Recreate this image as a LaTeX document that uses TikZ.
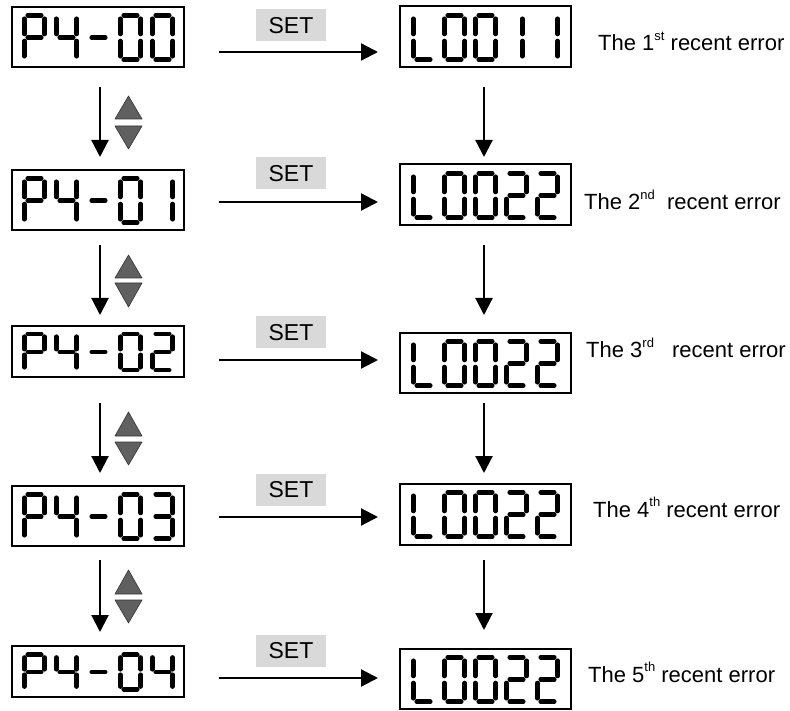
\documentclass[tikz,border=0pt]{standalone}
\usepackage{fontspec}
\setmainfont{Liberation Sans}
\usetikzlibrary{arrows.meta}
\definecolor{setgray}{RGB}{217,217,217}
\definecolor{trigray}{RGB}{96,96,96}
% seven-segment pieces (digit cell 25 x 49, top-left origin)
\newcommand\sgA{\draw[seg] (5.75,2.25)--(19.25,2.25);}
\newcommand\sgB{\draw[seg] (22.75,5.75)--(22.75,21);}
\newcommand\sgC{\draw[seg] (22.75,28)--(22.75,43.25);}
\newcommand\sgD{\draw[seg] (5.75,46.75)--(19.25,46.75);}
\newcommand\sgE{\draw[seg] (2.25,28)--(2.25,43.25);}
\newcommand\sgF{\draw[seg] (2.25,5.75)--(2.25,21);}
\newcommand\sgG{\draw[seg] (5.75,24.5)--(19.25,24.5);}
\newcommand\chZero{\sgA\sgB\sgC\sgD\sgE\sgF}
\newcommand\chOne{\sgB\sgC}
\newcommand\chTwo{\sgA\sgB\sgG\sgE\sgD}
\newcommand\chThree{\sgA\sgB\sgG\sgC\sgD}
\newcommand\chFour{\sgF\sgG\sgB\sgC}
\newcommand\chP{\sgA\sgB\sgF\sgG\sgE}
\newcommand\chL{\sgF\sgE\sgD}
\newcommand\chDash{\sgG}
\newcommand\dig[4]{\begin{scope}[shift={(#1,#2)},yscale=#3]#4\end{scope}}
\newcommand\leftrow[3]{\dig{22}{#1}{#2}{\chP}\dig{54}{#1}{#2}{\chFour}\dig{86}{#1}{#2}{\chDash}\dig{118}{#1}{#2}{\chZero}\dig{150}{#1}{#2}{#3}}
\newcommand\rightrow[1]{\dig{411}{#1}{1}{\chL}\dig{442}{#1}{1}{\chZero}\dig{473}{#1}{1}{\chZero}\dig{504}{#1}{1}{\chTwo}\dig{535}{#1}{1}{\chTwo}}
\newcommand\sups[1]{\raisebox{10.5pt}{\fontsize{13}{13}\selectfont #1}}
\begin{document}
\begin{tikzpicture}[x=1pt,y=-1pt,
  seg/.style={line width=4.6pt,line cap=round},
  dbox/.style={draw,line width=1.5pt,inner sep=0pt,outer sep=0pt},
  lbox/.style={dbox,minimum width=172pt},
  rbox/.style={dbox,minimum width=171pt},
  setbox/.style={fill=setgray,minimum width=70pt,minimum height=32pt,inner sep=0pt,text height=16.5pt,text depth=0pt,font=\fontsize{23}{27}\selectfont},
  lab/.style={anchor=base west,inner sep=0pt,font=\fontsize{22}{26}\selectfont},
  arr/.style={line width=2.2pt,-{Triangle[length=17pt,width=17pt]}},
  tri/.style={fill=trigray,draw=black!80,line width=0.6pt,line join=round}]
\useasboundingbox (0,0) rectangle (790,711);

% left displays
\node[lbox,minimum height=60pt] (l1) at (98,37) {};
\node[lbox,minimum height=60pt] (l2) at (98,200) {};
\node[lbox,minimum height=51pt] (l3) at (98,351.5) {};
\node[lbox,minimum height=60pt] (l4) at (98,516) {};
\node[lbox,minimum height=51pt] (l5) at (98,671.5) {};
\leftrow{13}{1}{\chZero}
\leftrow{176}{1}{\chOne}
\leftrow{332}{0.816}{\chTwo}
\leftrow{492}{1}{\chThree}
\leftrow{653}{0.776}{\chFour}

% right displays
\node[rbox,minimum height=61pt] (r1) at (485.5,36.5) {};
\node[rbox,minimum height=61pt] (r2) at (485.5,194.5) {};
\node[rbox,minimum height=60pt] (r3) at (485.5,363) {};
\node[rbox,minimum height=61pt] (r4) at (485.5,514.5) {};
\node[rbox,minimum height=60pt] (r5) at (485.5,679) {};
\dig{411}{13}{1}{\chL}\dig{442}{13}{1}{\chZero}\dig{473}{13}{1}{\chZero}\dig{499.5}{13}{1}{\chOne}\dig{535}{13}{1}{\chOne}
\rightrow{171}
\rightrow{339}
\rightrow{490}
\rightrow{655}

% SET keys
\node[setbox] (s1) at (291,25) {SET};
\node[setbox] (s2) at (291,173.5) {SET};
\node[setbox] (s3) at (291,332.5) {SET};
\node[setbox] (s4) at (291,489.5) {SET};
\node[setbox] (s5) at (291,650.5) {SET};

% labels
\node[lab] (t1) at (598,51) {The 1\sups{st} recent error};
\node[lab] (t2) at (584,210) {The 2\sups{nd}\hspace{6pt} recent error};
\node[lab] (t3) at (586,358) {The 3\sups{rd}\hspace{12pt} recent error};
\node[lab] (t4) at (593,517) {The 4\sups{th} recent error};
\node[lab] (t5) at (588,682) {The 5\sups{th} recent error};

% horizontal arrows
\foreach \i/\y in {1/52,2/202,3/360,4/517,5/678}{
  \coordinate (hs\i) at (219,\y);
  \coordinate (he\i) at (378,\y);
  \draw[arr] (hs\i) -- (he\i);
}
% right vertical arrows
\foreach \i/\a/\b in {1/87/157,2/245/315,3/403/473,4/560/630}{
  \coordinate (rvs\i) at (484,\a);
  \coordinate (rve\i) at (484,\b);
  \draw[arr] (rvs\i) -- (rve\i);
}
% left vertical arrows
\foreach \i/\a/\b in {1/87/157,2/245/315,3/403/473,4/560/632}{
  \coordinate (lvs\i) at (100,\a);
  \coordinate (lve\i) at (100,\b);
  \draw[arr] (lvs\i) -- (lve\i);
}
% up/down key triangles
\foreach \u/\ub/\d/\da in {96/119/126/149,255/278/283/307,412/436/442/465,570/594/600/623}{
  \draw[tri] (115,\ub) -- (142,\ub) -- (128.5,\u) -- cycle;
  \draw[tri] (115,\d) -- (142,\d) -- (128.5,\da) -- cycle;
}
\end{tikzpicture}
\end{document}
